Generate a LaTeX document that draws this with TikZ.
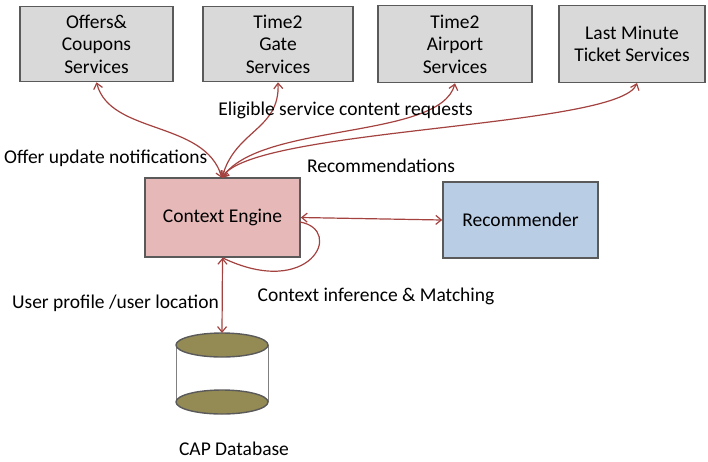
\documentclass[tikz,border=0pt]{standalone}
\usepackage{fontspec}
\setmainfont{Carlito}
\usetikzlibrary{arrows.meta}
\definecolor{edgegray}{HTML}{5A5A5A}
\definecolor{svcfill}{HTML}{D9D9D9}
\definecolor{enginefill}{HTML}{E6B9B8}
\definecolor{recfill}{HTML}{B9CDE5}
\definecolor{dbfill}{HTML}{948A54}
\definecolor{flow}{HTML}{A3423F}
\begin{document}
\begin{tikzpicture}[x=1pt,y=-1pt,
  font=\fontsize{19.5}{22.5}\selectfont,
  boxbase/.style={draw=edgegray,line width=1.6pt,align=center,inner sep=2pt},
  svc/.style={boxbase,fill=svcfill},
  flowline/.style={draw=flow,line width=1.2pt,{Straight Barb[length=5.5pt,width=9pt]}-{Straight Barb[length=5.5pt,width=9pt]}},
  loopline/.style={draw=flow,line width=1.2pt},
  lbl/.style={inner sep=0pt}]
\useasboundingbox (0,0) rectangle (708,461);

% service boxes along the top
\node[svc,minimum width=153pt,minimum height=75pt] (offers) at (96.5,44) {Offers\&\\Coupons\\Services};
\node[svc,minimum width=150pt,minimum height=75pt] (gate) at (278,44) {Time2\\Gate\\Services};
\node[svc,minimum width=154pt,minimum height=77pt] (airport) at (455,44) {Time2\\Airport\\Services};
\node[svc,minimum width=146pt,minimum height=77pt] (lastmin) at (632,44) {Last Minute\\Ticket Services};

% engine and recommender
\node[boxbase,fill=enginefill,minimum width=155pt,minimum height=79pt] (engine) at (222.5,217.5) {Context Engine};
\node[boxbase,fill=recfill,minimum width=155pt,minimum height=76pt] (rec) at (520.5,220) {Recommender};

% database cylinder
\coordinate (dbtop) at (222,333);
\draw[gray,line width=0.6pt] (176,345) -- (176,402) (268,345) -- (268,402);
\draw[fill=dbfill,draw=edgegray,line width=1.4pt] (222,402) ellipse [x radius=46pt,y radius=12pt];
\draw[fill=dbfill,draw=edgegray,line width=1.4pt] (222,345) ellipse [x radius=46pt,y radius=12pt];
\node[lbl,anchor=base] (dblabel) at (234,455) {CAP Database};

% connectors from the engine to the services
\coordinate (etop) at (222,178);
\draw[flowline] (etop) .. controls (205,120) and (110,135) .. (offers.south);
\draw[flowline] (etop) .. controls (235,130) and (280,130) .. (gate.south);
\draw[flowline] (etop) .. controls (260,122) and (440,140) .. (airport.south);
\draw[flowline] (etop) .. controls (250,128) and (620,128) .. (637,83);

% engine to recommender, self loop, engine to database
\draw[flowline] (engine.east) -- (rec.west);
\draw[loopline] (300,222) .. controls (345,230) and (310,300) .. (engine.south);
\draw[flowline] (engine.south) -- (dbtop);

% labels
\node[lbl,anchor=west] (lbloffer) at (4,158) {Offer update notifications};
\node[lbl] (lblelig) at (345.5,110) {Eligible service content requests};
\node[lbl] (lblrecs) at (381,166) {Recommendations};
\node[lbl] (lblctx) at (376,296) {Context inference \& Matching};
\node[lbl,anchor=east] (lbluser) at (219,303) {User profile /user location};
\end{tikzpicture}
\end{document}
